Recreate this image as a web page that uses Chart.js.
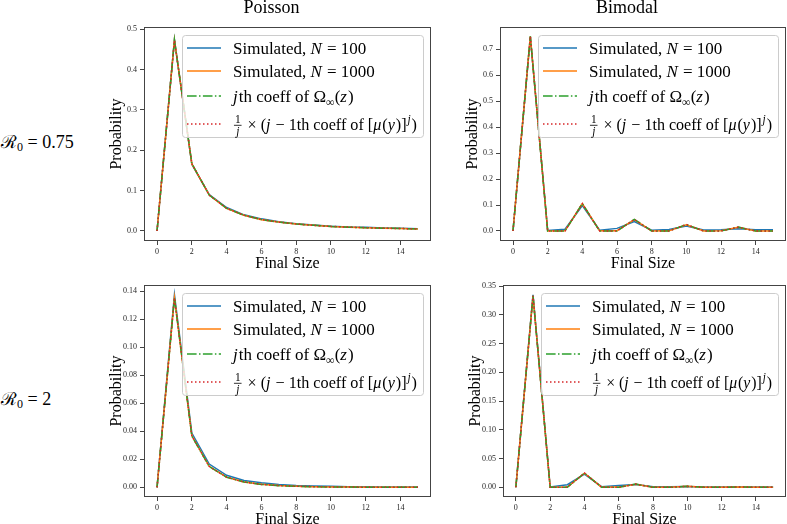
<!DOCTYPE html>
<html>
<head>
<meta charset="utf-8">
<script src="https://cdn.jsdelivr.net/npm/chart.js@4/dist/chart.umd.min.js"></script>
<style>
    body { margin: 0; background: #fff; width: 787px; height: 524px; position: relative; overflow: hidden; }
    canvas { position: absolute; }
    .row { position: absolute; left: 1px; font: 18px "Liberation Serif", serif; color: #000; white-space: nowrap; line-height: 20px; }
    .row sub { font-size: 12px; vertical-align: -3px; }
</style>
</head>
<body>
<div class="row" style="top: 132px">ℛ<sub>0</sub> = 0.75</div>
<div class="row" style="top: 389px">ℛ<sub>0</sub> = 2</div>
<script>
var finalSizes = [0, 1, 2, 3, 4, 5, 6, 7, 8, 9, 10, 11, 12, 13, 14, 15]
var xTickLabels = ['0', '2', '4', '6', '8', '10', '12', '14']

var seriesColors = ['#1f77b4', '#ff7f0e', '#2ca02c', '#d62728']
var legendLabels = [
    ['Simulated, ', ['i', 'N'], ' = 100'],
    ['Simulated, ', ['i', 'N'], ' = 1000'],
    [['i', 'j'], 'th coeff of Ω', ['sub', '∞'], '(', ['i', 'z'], ')'],
    [['frac', '1', 'j'], ' × (', ['i', 'j'], ' − 1th coeff of [', ['i', 'μ'], '(', ['i', 'y'], ')]', ['sup', 'j'], ')']
]

// Poisson, R0 = 0.75
var poissonLowN100 = [0, 0.474, 0.165, 0.090, 0.058, 0.040, 0.030, 0.023, 0.018, 0.015, 0.012, 0.010, 0.009, 0.0075, 0.0065, 0.0055]
var poissonLowN1000 = [0, 0.473, 0.166, 0.089, 0.056, 0.039, 0.028, 0.022, 0.017, 0.014, 0.011, 0.0095, 0.008, 0.007, 0.006, 0.005]
var poissonLowOmega = [0, 0.472, 0.167, 0.0889, 0.056, 0.0388, 0.0285, 0.0218, 0.0172, 0.0139, 0.0114, 0.0095, 0.0081, 0.0069, 0.006, 0.0052]
var poissonLowMu = [0, 0.472, 0.167, 0.0889, 0.056, 0.0388, 0.0285, 0.0218, 0.0172, 0.0139, 0.0114, 0.0095, 0.0081, 0.0069, 0.006, 0.0052]
var poissonLowTicks = ['0.0', '0.1', '0.2', '0.3', '0.4', '0.5']

// Bimodal, R0 = 0.75
var bimodalLowN100 = [0, 0.748, 0.002, 0.007, 0.098, 0.003, 0.010, 0.036, 0.003, 0.006, 0.019, 0.004, 0.005, 0.009, 0.005, 0.005]
var bimodalLowN1000 = [0, 0.75, 0, 0.0005, 0.105, 0.0005, 0.001, 0.044, 0, 0.0005, 0.024, 0, 0.0005, 0.014, 0, 0]
var bimodalLowOmega = [0, 0.75, 0, 0, 0.1055, 0, 0, 0.0445, 0, 0, 0.025, 0, 0, 0.015, 0, 0]
var bimodalLowMu = [0, 0.75, 0, 0, 0.1055, 0, 0, 0.0445, 0, 0, 0.025, 0, 0, 0.015, 0, 0]
var bimodalLowTicks = ['0.0', '0.1', '0.2', '0.3', '0.4', '0.5', '0.6', '0.7']

// Poisson, R0 = 2
var poissonHighN100 = [0, 0.1375, 0.0388, 0.0166, 0.0086, 0.0049, 0.0032, 0.0021, 0.0014, 0.001, 0.0007, 0.0005, 0.0004, 0.0003, 0.0002, 0.0002]
var poissonHighN1000 = [0, 0.1355, 0.037, 0.015, 0.0073, 0.0038, 0.0022, 0.0013, 0.0008, 0.0005, 0.0003, 0.0002, 0.00013, 0.00009, 0.00006, 0.00004]
var poissonHighOmega = [0, 0.1353, 0.0366, 0.0149, 0.0072, 0.0038, 0.0021, 0.0012, 0.00075, 0.00046, 0.00029, 0.00019, 0.00012, 0.00008, 0.00005, 0.00003]
var poissonHighMu = [0, 0.1353, 0.0366, 0.0149, 0.0072, 0.0038, 0.0021, 0.0012, 0.00075, 0.00046, 0.00029, 0.00019, 0.00012, 0.00008, 0.00005, 0.00003]
var poissonHighTicks = ['0.00', '0.02', '0.04', '0.06', '0.08', '0.10', '0.12', '0.14']

// Bimodal, R0 = 2
var bimodalHighN100 = [0, 0.335, 0.0005, 0.0045, 0.023, 0.001, 0.003, 0.005, 0.001, 0.001, 0.0015, 0.0005, 0.0005, 0.0005, 0.0003, 0.0003]
var bimodalHighN1000 = [0, 0.333, 0, 0.0005, 0.0245, 0.0002, 0.0003, 0.0054, 0.0001, 0.0001, 0.0016, 0, 0, 0.0005, 0, 0]
var bimodalHighOmega = [0, 0.3333, 0, 0, 0.0247, 0, 0, 0.0055, 0, 0, 0.0016, 0, 0, 0.00055, 0, 0]
var bimodalHighMu = [0, 0.3333, 0, 0, 0.0247, 0, 0, 0.0055, 0, 0, 0.0016, 0, 0, 0.00055, 0, 0]
var bimodalHighTicks = ['0.00', '0.05', '0.10', '0.15', '0.20', '0.25', '0.30', '0.35']

var panels = [
    { title: 'Poisson', area: [144, 27, 431, 241], range: [-0.0248, 0.505], ticks: poissonLowTicks,
      series: [poissonLowN100, poissonLowN1000, poissonLowOmega, poissonLowMu] },
    { title: 'Bimodal', area: [500, 27, 786, 241], range: [-0.0386, 0.786], ticks: bimodalLowTicks,
      series: [bimodalLowN100, bimodalLowN1000, bimodalLowOmega, bimodalLowMu] },
    { title: '', area: [144, 285, 431, 497], range: [-0.0069, 0.1445], ticks: poissonHighTicks,
      series: [poissonHighN100, poissonHighN1000, poissonHighOmega, poissonHighMu] },
    { title: '', area: [503, 285, 786, 497], range: [-0.0169, 0.352], ticks: bimodalHighTicks,
      series: [bimodalHighN100, bimodalHighN1000, bimodalHighOmega, bimodalHighMu] }
]

var serif = '"Liberation Serif", serif'
var dashes = [[], [], [9.6, 2.4, 1.5, 2.4], [1.5, 2.5]]

function font(size, italic) {
    return `${italic ? 'italic ' : ''}${size}px ${serif}`
}

// draws (or only measures, when draw is false) a line of text with italic, sub, sup and fraction parts
function drawRich(ctx, parts, x, y, size, draw) {
    var small = Math.round(size * 0.7)
    var x0 = x
    var put = (t, px, py) => { if (draw) ctx.fillText(t, px, py) }
    parts.forEach(part => {
        if (typeof part == 'string') {
            ctx.font = font(size)
            put(part, x, y)
            x += ctx.measureText(part).width
            return
        }
        var [kind, a, b] = part
        if (kind == 'i') {
            ctx.font = font(size, true)
            put(a, x, y)
            x += ctx.measureText(a).width + 1
        } else if (kind == 'sub') {
            ctx.font = font(small)
            put(a, x, y + size * 0.22)
            x += ctx.measureText(a).width
        } else if (kind == 'sup') {
            ctx.font = font(small, true)
            put(a, x + 1, y - size * 0.42)
            x += ctx.measureText(a).width + 2
        } else if (kind == 'frac') {
            ctx.font = font(small)
            var wa = ctx.measureText(a).width
            ctx.font = font(small, true)
            var wb = ctx.measureText(b).width
            var w = Math.max(wa, wb) + 2
            var axis = y - size * 0.28
            if (draw) ctx.fillRect(x + 1, axis - 0.4, w, 0.8)
            ctx.font = font(small)
            put(a, x + 1 + (w - wa) / 2, axis - 2)
            ctx.font = font(small, true)
            put(b, x + 1 + (w - wb) / 2, axis + small * 0.72 + 1)
            x += w + 3
        }
    })
    return x - x0
}

var decorations = {
    id: 'decorations',
    afterDraw(chart, args, opts) {
        var { ctx, chartArea } = chart
        var { left, top, right, bottom } = chartArea
        ctx.save()

        ctx.strokeStyle = '#444'
        ctx.lineWidth = 1
        ctx.strokeRect(left + 0.5, top + 0.5, right - left - 1, bottom - top - 1)

        ctx.fillStyle = '#000'
        ctx.textAlign = 'center'
        ctx.textBaseline = 'alphabetic'
        if (opts.title) {
            ctx.font = font(18)
            ctx.fillText(opts.title, (left + right) / 2 - 16, top - 14)
        }
        ctx.font = font(16)
        ctx.fillText('Final Size', (left + right) / 2, bottom + 27)
        ctx.save()
        ctx.translate(left - 27, (top + bottom) / 2)
        ctx.rotate(-Math.PI / 2)
        ctx.textBaseline = 'middle'
        ctx.fillText('Probability', 0, 0)
        ctx.restore()

        // legend
        var bx = left + 38, by = top + 8, bw = right - 8 - bx, bh = 102
        ctx.beginPath()
        ctx.roundRect(bx + 0.5, by + 0.5, bw, bh, 3)
        ctx.fillStyle = 'rgba(255,255,255,0.8)'
        ctx.fill()
        ctx.strokeStyle = '#ccc'
        ctx.stroke()
        var rows = [21, 44, 69, 97]
        var textX = bx + 51, room = bx + bw - 6 - textX
        ctx.textAlign = 'left'
        legendLabels.forEach((label, i) => {
            var ry = top + rows[i]
            ctx.beginPath()
            ctx.setLineDash(dashes[i])
            ctx.strokeStyle = seriesColors[i]
            ctx.lineWidth = 1.5
            ctx.moveTo(bx + 5, ry)
            ctx.lineTo(bx + 39, ry)
            ctx.stroke()
            ctx.setLineDash([])
            ctx.fillStyle = '#000'
            var w = drawRich(ctx, label, 0, 0, 17, false)
            var sx = Math.min(1, room / w)
            ctx.save()
            ctx.translate(textX, ry + 6)
            ctx.scale(sx, 1)
            drawRich(ctx, label, 0, 0, 17, true)
            ctx.restore()
        })
        ctx.restore()
    }
}

function makePanel(p) {
    var [left, top, right, bottom] = p.area
    var cx = left - 50, cy = top - 27
    var canvas = document.createElement('canvas')
    canvas.width = right + 1 - cx
    canvas.height = bottom - top + 57
    canvas.style.left = cx + 'px'
    canvas.style.top = cy + 'px'
    document.body.appendChild(canvas)

    var tickFont = { family: serif, size: 8 }
    var axisGrid = { drawOnChartArea: false, drawTicks: true, tickLength: 4, color: '#444', lineWidth: 1 }

    new Chart(canvas, {
        type: 'line',
        data: {
            datasets: p.series.map((values, i) => ({
                data: finalSizes.map((x, k) => ({ x, y: values[k] })),
                borderColor: seriesColors[i],
                borderWidth: 1.5,
                borderDash: dashes[i],
                pointRadius: 0,
                tension: 0,
                fill: false,
                order: p.series.length - i
            }))
        },
        options: {
            responsive: false,
            animation: false,
            devicePixelRatio: 1,
            layout: { padding: { top: 27, right: 1, left: 0, bottom: 0 } },
            plugins: {
                legend: { display: false },
                tooltip: { enabled: false },
                decorations: { title: p.title }
            },
            scales: {
                x: {
                    type: 'linear',
                    min: -0.75,
                    max: 15.75,
                    grid: axisGrid,
                    border: { display: false },
                    ticks: { font: tickFont, color: '#262626', padding: 2, maxRotation: 0,
                        callback: v => String(v) },
                    afterBuildTicks: s => { s.ticks = xTickLabels.map(t => ({ value: Number(t) })) },
                    afterFit: s => { s.height = 30 }
                },
                y: {
                    min: p.range[0],
                    max: p.range[1],
                    grid: axisGrid,
                    border: { display: false },
                    ticks: { font: tickFont, color: '#262626', padding: 3,
                        callback: v => p.ticks.find(t => Math.abs(Number(t) - v) < 1e-9) },
                    afterBuildTicks: s => { s.ticks = p.ticks.map(t => ({ value: Number(t) })) },
                    afterFit: s => { s.width = 50 }
                }
            }
        },
        plugins: [decorations]
    })
}

panels.forEach(makePanel)
</script>
</body>
</html>
